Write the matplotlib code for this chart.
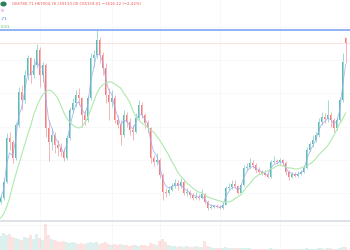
import matplotlib
matplotlib.use("Agg")
import matplotlib.pyplot as plt
from matplotlib.lines import Line2D
import numpy as np
import pandas as pd

# price data, USD thousands, one candle per 3 px column
opens = [17.2, 18.5, 23.3, 36.6, 35.4, 30.5, 40.5, 50.4, 48.0, 55.5,
         60.6, 55.5, 58.5, 63.0, 55.5, 58.5, 39.6, 35.4, 37.5, 34.5,
         33.5, 32.3, 30.5, 36.6, 45.0, 47.1, 49.5, 48.6, 43.5, 42.0,
         48.6, 60.6, 61.5, 66.0, 61.5, 57.6, 49.5, 47.4, 48.6, 42.0,
         40.5, 37.5, 43.5, 41.4, 39.0, 38.4, 42.6, 46.5, 43.5, 41.1,
         39.6, 30.5, 29.3, 29.9, 25.4, 20.3, 20.0, 20.9, 22.1, 23.0,
         22.1, 23.3, 20.0, 20.3, 19.4, 18.5, 18.8, 18.5, 19.7, 17.3,
         15.5, 15.8, 16.1, 15.8, 15.5, 16.4, 21.5, 21.8, 22.7, 22.1,
         20.0, 22.4, 27.5, 27.8, 29.0, 28.4, 26.9, 26.3, 26.0, 25.4,
         24.8, 29.3, 29.6, 29.3, 29.9, 29.0, 26.3, 24.8, 25.6, 25.1,
         25.7, 26.3, 27.5, 33.0, 34.8, 36.0, 37.5, 41.4, 42.9, 42.2,
         43.5, 42.0, 39.6, 42.0, 48.0, 66.78]
closes = [18.50, 23.32, 36.56, 35.40, 30.54, 40.48, 50.41, 48.00, 55.53, 60.64,
          55.53, 58.54, 63.05, 55.53, 58.54, 39.57, 35.36, 37.47, 34.46, 33.55,
          32.35, 30.54, 36.56, 44.99, 47.10, 49.51, 48.60, 43.49, 41.98, 48.60,
          60.64, 61.55, 66.06, 61.55, 57.63, 49.51, 47.40, 48.60, 41.98, 40.48,
          37.47, 43.49, 41.38, 38.97, 38.37, 42.58, 46.50, 43.49, 41.08, 39.57,
          30.54, 29.34, 29.94, 25.43, 20.31, 20.01, 20.91, 22.12, 23.02, 22.12,
          23.32, 20.01, 20.31, 19.41, 18.50, 18.81, 18.50, 19.71, 17.30, 15.49,
          15.80, 16.10, 15.80, 15.49, 16.40, 21.51, 21.80, 22.72, 22.12, 20.01,
          22.42, 27.53, 27.84, 29.04, 28.44, 26.93, 26.33, 26.03, 25.43, 24.83,
          29.34, 29.64, 29.34, 29.90, 29.04, 26.33, 24.83, 25.60, 25.13, 25.73,
          26.33, 27.53, 32.95, 34.76, 35.96, 37.47, 41.38, 42.89, 42.20, 43.49,
          41.98, 39.57, 41.98, 48.00, 59.50, 65.159]
highs = [19.3, 24.5, 38.0, 38.5, 36.0, 41.5, 52.0, 52.5, 57.0, 61.5,
         61.0, 60.5, 65.0, 64.0, 59.5, 59.0, 42.0, 39.5, 38.5, 36.0,
         35.0, 33.5, 37.5, 46.0, 48.5, 51.0, 51.5, 49.0, 45.0, 49.5,
         62.0, 63.0, 69.0, 67.0, 62.5, 59.0, 51.5, 51.0, 49.5, 43.5,
         42.0, 45.0, 44.5, 42.5, 40.5, 44.0, 48.0, 47.5, 44.0, 42.0,
         40.0, 31.5, 32.0, 30.5, 26.0, 21.5, 22.0, 23.0, 24.3, 24.0,
         24.5, 23.8, 21.5, 21.0, 20.0, 20.3, 19.8, 21.3, 20.0, 17.8,
         16.8, 16.5, 16.6, 16.3, 17.0, 22.0, 23.0, 23.8, 24.0, 22.5,
         23.0, 28.5, 29.0, 30.5, 30.0, 29.0, 27.8, 27.0, 26.8, 26.0,
         30.0, 31.0, 30.3, 30.5, 30.2, 29.5, 26.8, 26.2, 26.2, 26.5,
         27.0, 28.3, 34.0, 35.3, 37.5, 38.5, 42.5, 44.5, 44.0, 48.0,
         44.5, 42.5, 43.0, 49.0, 62.0, 67.00476]
lows = [16.8, 18.0, 23.0, 33.0, 29.0, 30.0, 40.0, 45.0, 47.0, 54.0,
        53.0, 54.5, 57.5, 52.0, 53.5, 37.0, 29.5, 33.0, 32.0, 31.0,
        31.0, 29.5, 30.0, 36.0, 44.0, 46.0, 46.5, 40.0, 40.5, 41.5,
        48.0, 58.0, 60.5, 59.0, 55.5, 47.0, 42.0, 46.0, 41.0, 39.5,
        34.5, 37.0, 40.0, 37.5, 36.0, 38.0, 42.0, 42.5, 39.5, 38.0,
        29.0, 28.0, 28.5, 24.5, 18.0, 18.8, 19.5, 20.5, 21.5, 21.0,
        21.5, 19.5, 19.0, 18.5, 18.0, 18.2, 18.0, 18.2, 16.8, 15.0,
        15.3, 15.4, 15.5, 15.2, 15.3, 16.3, 20.8, 21.3, 21.5, 19.6,
        19.8, 22.0, 26.8, 27.3, 27.5, 26.0, 25.8, 25.5, 25.0, 24.5,
        24.6, 29.0, 28.8, 28.8, 28.5, 25.5, 24.0, 24.6, 24.8, 24.9,
        25.5, 26.0, 27.3, 32.5, 34.0, 35.5, 37.0, 40.5, 41.0, 41.5,
        40.0, 38.5, 39.0, 41.5, 47.5, 59.133]
# long moving average
ma_long = [12.48, 13.69, 15.80, 18.50, 22.12, 25.43, 28.44, 31.45, 34.46, 37.47,
           40.18, 43.49, 45.90, 48.00, 49.51, 50.41, 51.01, 50.71, 49.81, 48.60,
           46.50, 44.39, 42.58, 41.38, 40.48, 39.88, 39.57, 39.88, 41.08, 42.58,
           44.99, 47.40, 49.81, 51.61, 52.52, 53.12, 53.42, 53.42, 52.82, 52.22,
           51.61, 50.11, 48.91, 47.40, 44.99, 43.19, 41.98, 41.08, 40.48, 39.88,
           38.97, 38.37, 37.17, 35.96, 34.46, 32.95, 31.45, 29.64, 28.14, 26.33,
           25.13, 24.22, 23.02, 22.42, 21.51, 20.91, 20.31, 20.01, 19.41, 18.81,
           18.50, 18.20, 17.90, 17.60, 17.30, 17.30, 17.30, 17.60, 18.20, 18.81,
           19.41, 20.61, 21.82, 22.72, 23.92, 24.83, 25.43, 25.73, 26.33, 26.63,
           27.23, 27.53, 28.14, 28.44, 28.14, 27.84, 27.53, 27.53, 27.23, 27.23,
           27.53, 27.84, 28.14, 28.74, 29.34, 30.24, 31.45, 32.35, 33.25, 34.16,
           35.66, 37.17, 38.97, 40.78, 42.28, 44.09]
volumes = [14, 17, 15, 16, 13, 12, 11, 10, 13, 12,
           15, 11, 16, 12, 10, 26, 15, 11, 10, 9,
           8, 9, 8, 7, 8, 7, 6, 7, 6, 7,
           8, 7, 8, 6, 7, 8, 6, 5, 6, 5,
           6, 5, 5, 4, 5, 5, 4, 5, 5, 4,
           7, 6, 5, 9, 11, 8, 5, 4, 4, 3,
           4, 3, 4, 3, 3, 4, 3, 3, 9, 4,
           3, 2, 2, 2, 2, 3, 2, 2, 2, 2,
           2, 2, 2, 2, 1, 1, 1, 1, 1, 1,
           2, 1, 1, 1, 1, 1, 1, 1, 1, 1,
           1, 1, 2, 1, 1, 1, 2, 2, 1, 2,
           2, 1, 1, 2, 3, 3]
ath = 69.0
legend_ohlc = "O66780.71 H67004.76 L59133.00 C65159.01 \u22121616.12 (\u22122.42%)"
# indicator values, only their tails show at the left edge
legend_tails = ["9", ".71", "6.91"]

UP = "#26a69a"
DOWN = "#ef5350"

o = np.array(opens)
c = np.array(closes)
h = np.array(highs)
l = np.array(lows)
idx = np.arange(len(c))
up = c >= o
cols = np.where(up, UP, DOWN)

fig = plt.figure(figsize=(3.5, 2.5), dpi=100)
fig.patch.set_facecolor("white")
W, H = 350.0, 250.0

ax = fig.add_axes([0, 30 / H, 1, 220 / H])
axv = fig.add_axes([0, 0, 1, 28 / H])
x0, x1 = -0.2, 116.47
grid_x = [13.3, 37.3, 53.3, 73.3, 93.3]

for a in (ax, axv):
    a.set_xlim(x0, x1)
    for s in a.spines.values():
        s.set_visible(False)
    a.tick_params(left=False, bottom=False, labelleft=False, labelbottom=False)
    a.set_xticks(grid_x)
    a.grid(True, color="#f4f5f8", lw=0.5)
    a.set_axisbelow(True)

ax.set_ylim(11.88, 78.10)
ax.set_yticks([20, 30, 40, 50, 60, 70])

# candles
ax.vlines(idx, l, h, colors=cols, lw=0.4, alpha=0.75, zorder=2)
ax.bar(idx, np.abs(c - o), bottom=np.minimum(o, c), width=0.45,
       color=cols, lw=0, alpha=0.75, zorder=3)

# short average and long average
short_ma = pd.Series(c).ewm(span=3, adjust=False).mean()
ax.plot(idx, short_ma, color="#9aa6f4", lw=0.6, alpha=0.8, zorder=4)
ax.plot(idx, ma_long, color="#aee9ae", lw=0.8, zorder=4)

ax.axhline(ath, color="#7fa6f3", lw=1.2, zorder=5)
ax.axhline(c[-1], color="#fbe0e0", lw=0.7, zorder=1)

# volume
axv.set_ylim(0, 28)
axv.bar(idx, volumes, width=0.8, color=cols, alpha=0.16, lw=0)

fig.add_artist(Line2D([0, 1], [29.5 / H, 29.5 / H], color="#dcdfe6", lw=1.3))

# legend
fig.add_artist(plt.Circle((3.5 / W, 1 - 4 / H), 0.007, color="#2e7d5b",
                          transform=fig.transFigure))
fig.text(12 / W, 1 - 4 / H, legend_ohlc, color=DOWN, fontsize=2.8, va="center")
tail_cols = ["#e05ce0", "#5b7cf0", "#6cc86c"]
for k, (txt, col) in enumerate(zip(legend_tails, tail_cols)):
    fig.text(0.8 / W, 1 - (11 + 8 * k) / H, txt, color=col, fontsize=3.2,
             va="center", ha="left")

fig.savefig("out.png", dpi=100)
